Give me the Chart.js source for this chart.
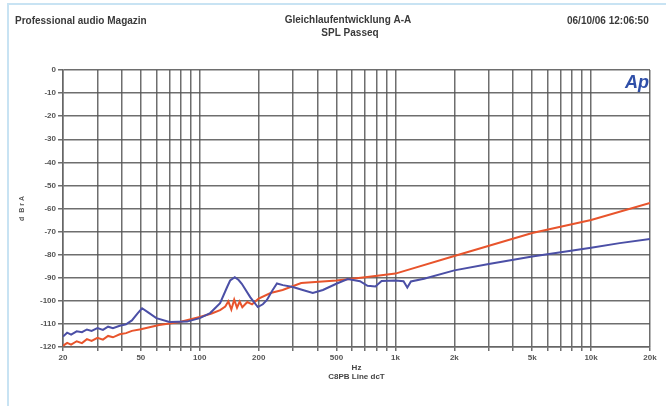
<!DOCTYPE html>
<html>
<head>
<meta charset="utf-8">
<script src="https://cdn.jsdelivr.net/npm/chart.js@4.4.1/dist/chart.umd.min.js"></script>
<style>
  html, body { margin: 0; padding: 0; background: #fff; }
  #wrap { position: relative; width: 666px; height: 406px; }
  #frame { position: absolute; left: 7px; top: 3px; right: -4px; bottom: -4px;
           border-left: 2px solid #c8e3f3; border-top: 2px solid #c8e3f3; }
</style>
</head>
<body>
<div id="wrap">
  <div id="frame"></div>
  <canvas id="apChart" width="666" height="406"></canvas>
</div>
<script>
// Frequency response
const blueFreq = [20, 21, 22, 23.5, 25, 26.5, 28, 30, 32, 34, 36, 39, 42, 45, 48, 50.7, 54, 60, 70, 86,
  100, 113, 127, 138, 143, 151, 158, 164, 181, 198, 210, 220, 235, 248, 266, 299, 336, 378, 426, 502,
  570, 659, 720, 790, 850, 1000, 1100, 1150, 1200, 1400, 2000, 3000, 5000, 7000, 10000, 14000, 20000];
const blueDb = [-115.5, -113.8, -114.6, -113.2, -113.6, -112.4, -113.0, -111.8, -112.6, -111.2, -111.9, -110.8, -110.2, -108.5, -105.5, -103.2, -104.8, -107.5, -109.2, -109.0,
  -107.5, -105.3, -101, -94, -91.2, -89.8, -91, -92.6, -98.4, -102.7, -101.5, -99.7, -95.5, -92.5, -93.2, -94, -95.3, -96.6, -95.3, -92.5,
  -90.6, -91.5, -93.5, -93.8, -91.4, -91.2, -91.5, -94.2, -91.6, -90.4, -86.8, -84, -80.8, -79, -77, -75, -73.2];

const redFreq = [20, 21, 22, 23.5, 25, 26.5, 28, 30, 32, 34, 36, 39, 42, 45, 50, 62, 79, 100, 115, 127,
  135, 140, 145, 150, 155, 160, 165, 175, 185, 200, 230, 265, 330, 500, 700, 1000, 2000, 5000, 10000, 20000];
const redDb = [-119.5, -118.2, -119, -117.5, -118.3, -116.6, -117.4, -116, -116.8, -115.2, -115.8, -114.5, -114, -113, -112.3, -110.5, -109.2, -107, -105.5, -104,
  -102.5, -100.2, -103.8, -99.5, -103, -100.3, -102.8, -100.5, -101.5, -99, -96.6, -95.3, -92.3, -91.2, -89.8, -88.2, -80.6, -70.6, -65, -57.6];

// log grid lines and the labelled ones
const gridFreqs = [20, 30, 40, 50, 60, 70, 80, 90, 100, 200, 300, 400, 500, 600, 700, 800, 900,
  1000, 2000, 3000, 4000, 5000, 6000, 7000, 8000, 9000, 10000, 20000];
const freqLabels = { 20: "20", 50: "50", 100: "100", 200: "200", 500: "500", 1000: "1k",
  2000: "2k", 5000: "5k", 10000: "10k", 20000: "20k" };

const toPoints = (xs, ys) => xs.map((f, i) => ({ x: f, y: ys[i] }));

const gridColor = "rgba(85,85,85,0.85)";
const tickFont = { family: "Liberation Sans", size: 8, weight: "bold" };

// header texts and the Ap logo
const headerPlugin = {
  id: "header",
  afterDraw(chart) {
    const c = chart.ctx;
    c.save();
    c.fillStyle = "#3a3a3a";
    c.font = "bold 10px 'Liberation Sans'";
    c.textBaseline = "middle";
    c.textAlign = "left";
    c.fillText("Professional audio Magazin", 15, 21);
    c.fillText("06/10/06 12:06:50", 567, 21);
    c.textAlign = "center";
    c.fillText("Gleichlaufentwicklung A-A", 348, 20);
    c.fillText("SPL Passeq", 350, 33);
    c.fillStyle = "#2f4fa8";
    c.font = "italic bold 18px 'Liberation Sans'";
    c.fillText("Ap", 637, 83);
    c.restore();
  }
};

new Chart(document.getElementById("apChart"), {
  type: "line",
  data: {
    datasets: [
      {
        label: "blue",
        data: toPoints(blueFreq, blueDb),
        borderColor: "#4b4fa6",
        borderWidth: 2,
        pointRadius: 0,
        tension: 0
      },
      {
        label: "red",
        data: toPoints(redFreq, redDb),
        borderColor: "#e8542c",
        borderWidth: 2,
        pointRadius: 0,
        tension: 0
      }
    ]
  },
  options: {
    responsive: false,
    animation: false,
    layout: { padding: { top: 70, right: 16, left: 0, bottom: 20 } },
    plugins: {
      legend: { display: false },
      tooltip: { enabled: false }
    },
    scales: {
      x: {
        type: "logarithmic",
        min: 20,
        max: 20000,
        afterBuildTicks: (scale) => {
          scale.ticks = gridFreqs.map((v) => ({ value: v }));
        },
        afterFit: (scale) => { scale.height = 39; },
        ticks: {
          autoSkip: false,
          maxRotation: 0,
          color: "#555",
          font: tickFont,
          padding: 2,
          callback: (v) => freqLabels[v] || ""
        },
        grid: { color: gridColor, lineWidth: 1.5, tickLength: 4 },
        border: { color: "#666", width: 1.5 },
        title: {
          display: true,
          text: ["Hz", "C8PB Line dcT"],
          color: "#444",
          font: { family: "Liberation Sans", size: 8, weight: "bold" },
          padding: { top: 4 }
        }
      },
      y: {
        min: -120,
        max: 0,
        afterFit: (scale) => { scale.width = 63; },
        ticks: {
          stepSize: 10,
          color: "#555",
          font: tickFont,
          padding: 2
        },
        grid: { color: gridColor, lineWidth: 1.5, tickLength: 5 },
        border: { color: "#666", width: 1.5 },
        title: {
          display: true,
          text: "d  B r A",
          color: "#555",
          font: { family: "Liberation Sans", size: 7, weight: "bold" },
          padding: { top: 18, bottom: 0 }
        }
      }
    }
  },
  plugins: [headerPlugin]
});
</script>
</body>
</html>
